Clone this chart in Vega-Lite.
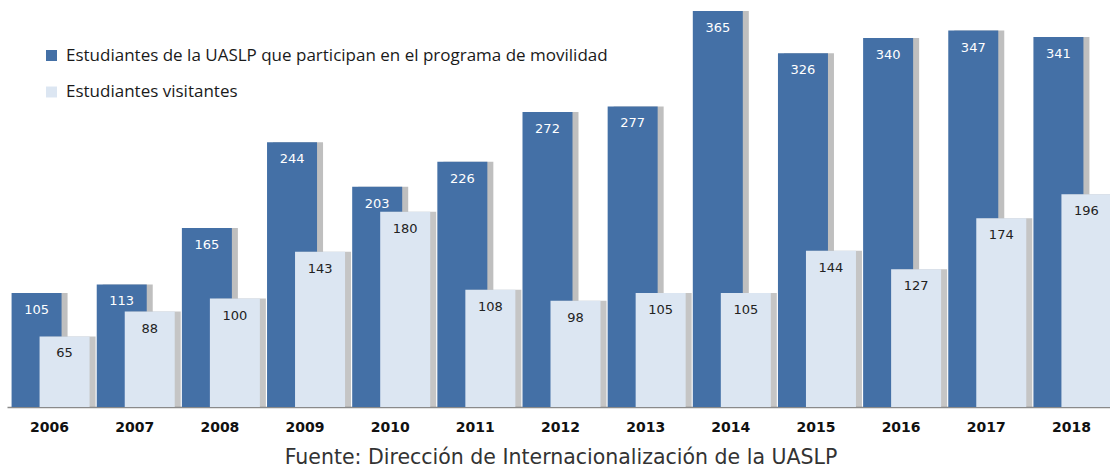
{
  "$schema": "https://vega.github.io/schema/vega-lite/v6.json",
  "autosize": "none",
  "width": 1107,
  "height": 396,
  "padding": {"left": 7, "top": 11, "right": 0, "bottom": 67},
  "background": "white",
  "config": {
    "view": {"stroke": null},
    "axis": {"grid": false}
  },
  "data": {
    "values": [
      {"year": "2006", "serie": "Estudiantes de la UASLP que participan en el programa de movilidad", "value": 105},
      {"year": "2007", "serie": "Estudiantes de la UASLP que participan en el programa de movilidad", "value": 113},
      {"year": "2008", "serie": "Estudiantes de la UASLP que participan en el programa de movilidad", "value": 165},
      {"year": "2009", "serie": "Estudiantes de la UASLP que participan en el programa de movilidad", "value": 244},
      {"year": "2010", "serie": "Estudiantes de la UASLP que participan en el programa de movilidad", "value": 203},
      {"year": "2011", "serie": "Estudiantes de la UASLP que participan en el programa de movilidad", "value": 226},
      {"year": "2012", "serie": "Estudiantes de la UASLP que participan en el programa de movilidad", "value": 272},
      {"year": "2013", "serie": "Estudiantes de la UASLP que participan en el programa de movilidad", "value": 277},
      {"year": "2014", "serie": "Estudiantes de la UASLP que participan en el programa de movilidad", "value": 365},
      {"year": "2015", "serie": "Estudiantes de la UASLP que participan en el programa de movilidad", "value": 326},
      {"year": "2016", "serie": "Estudiantes de la UASLP que participan en el programa de movilidad", "value": 340},
      {"year": "2017", "serie": "Estudiantes de la UASLP que participan en el programa de movilidad", "value": 347},
      {"year": "2018", "serie": "Estudiantes de la UASLP que participan en el programa de movilidad", "value": 341},
      {"year": "2006", "serie": "Estudiantes visitantes", "value": 65},
      {"year": "2007", "serie": "Estudiantes visitantes", "value": 88},
      {"year": "2008", "serie": "Estudiantes visitantes", "value": 100},
      {"year": "2009", "serie": "Estudiantes visitantes", "value": 143},
      {"year": "2010", "serie": "Estudiantes visitantes", "value": 180},
      {"year": "2011", "serie": "Estudiantes visitantes", "value": 108},
      {"year": "2012", "serie": "Estudiantes visitantes", "value": 98},
      {"year": "2013", "serie": "Estudiantes visitantes", "value": 105},
      {"year": "2014", "serie": "Estudiantes visitantes", "value": 105},
      {"year": "2015", "serie": "Estudiantes visitantes", "value": 144},
      {"year": "2016", "serie": "Estudiantes visitantes", "value": 127},
      {"year": "2017", "serie": "Estudiantes visitantes", "value": 174},
      {"year": "2018", "serie": "Estudiantes visitantes", "value": 196}
    ]
  },
  "encoding": {
    "x": {
      "field": "year", "type": "nominal",
      "scale": {"paddingInner": 0, "paddingOuter": 0},
      "axis": {
        "labelAngle": 0, "ticks": false, "domainColor": "#8a8a8a", "domainWidth": 1.5,
        "labelFont": "DejaVu Sans", "labelFontWeight": "bold", "labelFontSize": 14, "labelColor": "#111",
        "labelPadding": 13,
        "title": "Fuente: Dirección de Internacionalización de la UASLP",
        "titleFont": "DejaVu Sans", "titleFontSize": 20.5, "titleFontWeight": "normal", "titleColor": "#333",
        "titlePadding": 13
      }
    },
    "y": {
      "field": "value", "type": "quantitative",
      "scale": {"domain": [0, 365], "nice": false},
      "axis": null
    }
  },
  "layer": [
    {
      "transform": [{"filter": "datum.serie !== 'Estudiantes visitantes'"}],
      "mark": {"type": "bar", "width": 50, "xOffset": -7, "color": "#7f7f7f", "opacity": 0.5}
    },
    {
      "transform": [{"filter": "datum.serie !== 'Estudiantes visitantes'"}],
      "mark": {"type": "bar", "width": 50, "xOffset": -13},
      "encoding": {
        "color": {
          "field": "serie", "type": "nominal",
          "scale": {"domain": ["Estudiantes de la UASLP que participan en el programa de movilidad", "Estudiantes visitantes"], "range": ["#4470a6", "#dce6f2"]},
          "legend": {
            "title": null, "orient": "none", "legendX": 36, "legendY": 36,
            "symbolType": "square", "symbolSize": 121, "symbolStrokeWidth": 0,
            "labelFont": "Open Sans", "labelFontSize": 17, "labelColor": "#1a1a1a",
            "labelLimit": 700, "rowPadding": 18.5, "labelOffset": 6
          }
        }
      }
    },
    {
      "transform": [{"filter": "datum.serie === 'Estudiantes visitantes'"}],
      "mark": {"type": "bar", "width": 50, "xOffset": 21, "color": "#7f7f7f", "opacity": 0.45}
    },
    {
      "transform": [{"filter": "datum.serie === 'Estudiantes visitantes'"}],
      "mark": {"type": "bar", "width": 50, "xOffset": 15},
      "encoding": {
        "color": {"field": "serie", "type": "nominal", "legend": null}
      }
    },
    {
      "transform": [{"filter": "datum.serie !== 'Estudiantes visitantes'"}],
      "mark": {"type": "text", "xOffset": -13, "baseline": "top", "dy": 11, "font": "DejaVu Sans", "fontSize": 13, "color": "white"},
      "encoding": {"text": {"field": "value", "type": "quantitative"}}
    },
    {
      "transform": [{"filter": "datum.serie === 'Estudiantes visitantes'"}],
      "mark": {"type": "text", "xOffset": 15, "baseline": "top", "dy": 11, "font": "DejaVu Sans", "fontSize": 13, "color": "#222"},
      "encoding": {"text": {"field": "value", "type": "quantitative"}}
    }
  ]
}
